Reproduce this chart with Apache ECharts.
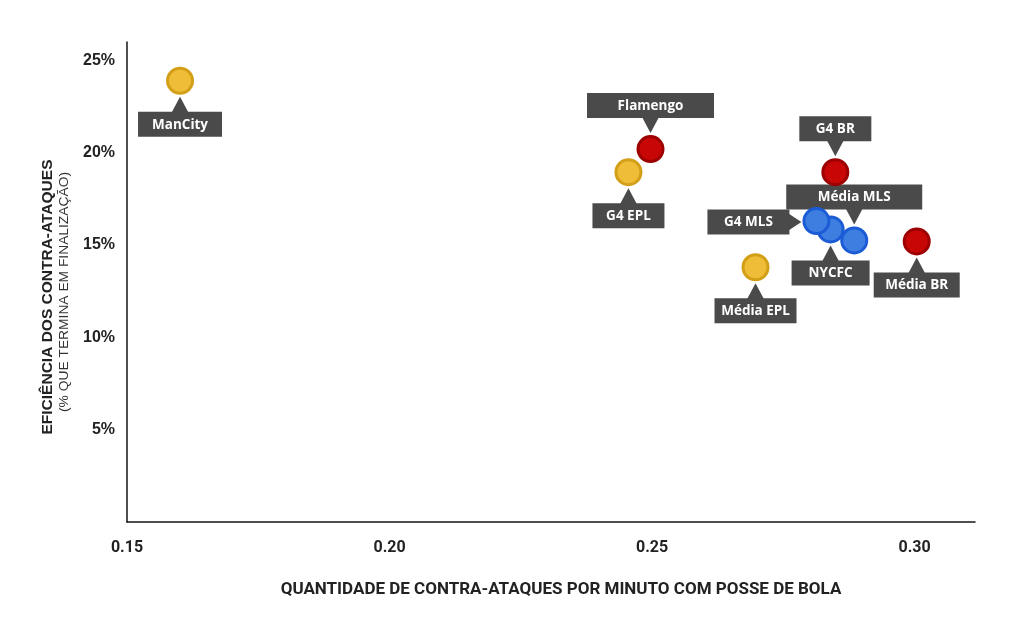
<!DOCTYPE html>
<html><head><meta charset="utf-8">
<script src="https://cdn.jsdelivr.net/npm/echarts@6/dist/echarts.min.js"></script>
<style>html,body{margin:0;padding:0;background:#fff}#c{width:1024px;height:625px}</style>
</head><body><div id="c"></div>
<script>
// ---- data ----
const names   = ['ManCity','G4 EPL','Média EPL','Flamengo','G4 BR','Média BR','NYCFC','G4 MLS','Média MLS'];
const groups  = ['EPL','EPL','EPL','BR','BR','BR','MLS','MLS','MLS'];
const xValues = [0.1601,0.2455,0.2697,0.2497,0.2849,0.3004,0.2840,0.2813,0.2885];
const yValues = [23.9,18.95,13.8,20.2,18.95,15.2,15.85,16.3,15.25];
const xTicks = [0.15,0.20,0.25,0.30];
const xTickLabels = ['0.15','0.20','0.25','0.30'];
const yTicks = [5,10,15,20,25];
const yTickLabels = ['5%','10%','15%','20%','25%'];
const xTitle = 'QUANTIDADE DE CONTRA-ATAQUES POR MINUTO COM POSSE DE BOLA';
const yTitle = 'EFICIÊNCIA DOS CONTRA-ATAQUES';
const ySubtitle = '(% QUE TERMINA EM FINALIZAÇÃO)';

// ---- styles / label layout ----
const groupStyle = {
  EPL: {color:'#f0bd38', borderColor:'#d29f17'},
  BR:  {color:'#c80606', borderColor:'#9c0000'},
  MLS: {color:'#3d7ee0', borderColor:'#1b5cd6'}
};
const labelLayout = {
  'ManCity':   {side:'bottom', w:84},
  'G4 EPL':    {side:'bottom', w:72},
  'Média EPL': {side:'bottom', w:82},
  'Flamengo':  {side:'top',    w:127},
  'G4 BR':     {side:'top',    w:72},
  'Média BR':  {side:'bottom', w:86},
  'NYCFC':     {side:'bottom', w:78},
  'G4 MLS':    {side:'left',   w:82},
  'Média MLS': {side:'top',    w:136}
};

function fmt(ticks, labels){
  return function(v){
    for (let i=0;i<ticks.length;i++) if (Math.abs(ticks[i]-v) < 1e-6) return labels[i];
    return '';
  };
}

const points = xValues.map((x,i)=>[x, yValues[i]]);

const scatterSeries = ['EPL','BR','MLS'].map(g => ({
  type:'scatter',
  name:g,
  z:5,
  symbolSize:25,
  itemStyle:{color:groupStyle[g].color, borderColor:groupStyle[g].borderColor, borderWidth:3, opacity:1},
  data: points.filter((p,i)=>groups[i]===g),
  silent:true
}));

const labelSeries = {
  type:'custom',
  z:3,
  clip:false,
  silent:true,
  data: points,
  encode:{x:0,y:1},
  renderItem:function(params, api){
    const i = params.dataIndex;
    const p = api.coord([api.value(0), api.value(1)]);
    const L = labelLayout[names[i]];
    const h = 25, w = L.w, off = 31, tip = 16, hw = 8.5;
    let rx, ry, tri;
    if (L.side === 'bottom') {
      rx = p[0]-w/2; ry = p[1]+off;
      tri = [[p[0]-hw, ry+1],[p[0]+hw, ry+1],[p[0], p[1]+tip]];
    } else if (L.side === 'top') {
      rx = p[0]-w/2; ry = p[1]-off-h;
      tri = [[p[0]-hw, ry+h-1],[p[0]+hw, ry+h-1],[p[0], p[1]-tip]];
    } else {
      rx = p[0]-27-w; ry = p[1]-h/2+1;
      tri = [[rx+w-1, p[1]-hw+1],[rx+w-1, p[1]+hw+1],[p[0]-15, p[1]+1]];
    }
    return {
      type:'group',
      children:[
        {type:'polygon', shape:{points:tri}, style:{fill:'#4a4a4a'}},
        {type:'rect', shape:{x:rx, y:ry, width:w, height:h}, style:{fill:'#4a4a4a'}},
        {type:'text', style:{text:names[i], x:rx+w/2, y:ry+h/2+0.5, align:'center', verticalAlign:'middle',
          fill:'#ffffff', font:'bold 13.5px "Open Sans"'}}
      ]
    };
  }
};

const chart = echarts.init(document.getElementById('c'), null, {renderer:'canvas'});
chart.setOption({
  backgroundColor:'#ffffff',
  animation:false,
  grid:{left:127, right:49, top:42, bottom:103},
  xAxis:{
    type:'value', min:0.15, max:0.3115, interval:0.05,
    splitLine:{show:false},
    axisTick:{show:false},
    axisLine:{show:true, onZero:false, lineStyle:{color:'#161616', width:1.5}},
    axisLabel:{formatter:fmt(xTicks,xTickLabels), margin:18, color:'#222', fontFamily:'Roboto', fontWeight:'bold', fontSize:16}
  },
  yAxis:{
    type:'value', min:0, max:26, interval:5,
    splitLine:{show:false},
    axisTick:{show:false},
    axisLine:{show:true, onZero:false, lineStyle:{color:'#161616', width:1.5}},
    axisLabel:{formatter:fmt(yTicks,yTickLabels), margin:12, color:'#222', fontFamily:'"Liberation Sans"', fontWeight:'bold', fontSize:16}
  },
  graphic:[
    {type:'text', x:561, y:590, style:{text:xTitle, align:'center', verticalAlign:'middle', fill:'#222', font:'bold 17px Roboto'}},
    {type:'text', x:48, y:297, rotation:Math.PI/2, style:{text:yTitle, align:'center', verticalAlign:'middle', fill:'#222', font:'bold 15.5px "Liberation Sans"'}},
    {type:'text', x:65, y:292, rotation:Math.PI/2, scaleX:1.15, style:{text:ySubtitle, align:'center', verticalAlign:'middle', fill:'#333', font:'12px "Liberation Sans"'}}
  ],
  series:[labelSeries].concat(scatterSeries)
});
</script>
</body></html>
